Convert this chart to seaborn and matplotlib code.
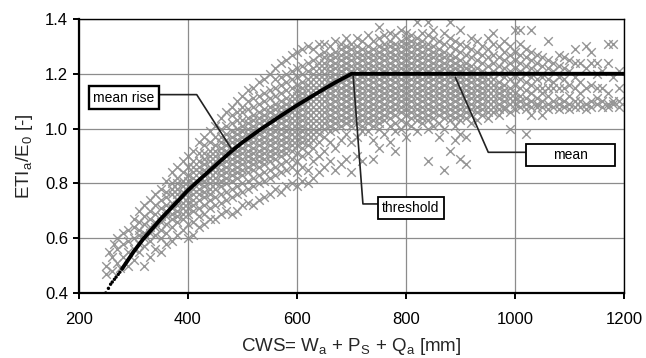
import matplotlib
matplotlib.use("Agg")
import matplotlib.pyplot as plt
from matplotlib.patches import Rectangle
import seaborn as sns
import pandas as pd

# ---------------- data ----------------
# scatter cloud: one x (CWS, mm) per column and the ETI/E0 values seen in it
cloud_cws = [250, 255, 260, 265, 270, 275, 280, 290, 300, 310, 320, 330, 340, 350, 360, 370, 380, 390,
             400, 410, 420, 430, 440, 450, 460, 470, 480, 490, 500, 510, 520, 530, 540, 550, 560, 570,
             580, 590, 600, 610, 620, 630, 640, 650, 660, 670, 680, 690, 700, 710, 720, 730, 740, 750,
             760, 770, 780, 790, 800, 810, 820, 830, 840, 850, 860, 870, 880, 890, 900, 910, 920, 930,
             940, 950, 960, 970, 980, 990, 1000, 1010, 1020, 1030, 1040, 1050, 1060, 1070, 1080, 1090,
             1100, 1110, 1120, 1130, 1140, 1150, 1160, 1170, 1180, 1190]
cloud_eti = [
    [0.47, 0.50], [0.55], [0.48, 0.53], [0.58], [0.51, 0.56, 0.60], [0.49],
    [0.53, 0.58, 0.62], [0.50, 0.55, 0.59, 0.63], [0.52, 0.56, 0.60, 0.64, 0.67],
    [0.55, 0.58, 0.61, 0.63, 0.66, 0.70], [0.50, 0.57, 0.60, 0.62, 0.65, 0.68, 0.72],
    [0.53, 0.59, 0.62, 0.64, 0.67, 0.70, 0.74], [0.56, 0.61, 0.64, 0.66, 0.69, 0.72, 0.76],
    [0.55, 0.60, 0.63, 0.66, 0.68, 0.71, 0.74, 0.78],
    [0.58, 0.62, 0.65, 0.68, 0.70, 0.72, 0.75, 0.77, 0.81],
    [0.59, 0.64, 0.67, 0.69, 0.71, 0.73, 0.76, 0.78, 0.80, 0.84],
    [0.61, 0.66, 0.68, 0.70, 0.72, 0.74, 0.76, 0.78, 0.80, 0.82, 0.86],
    [0.63, 0.67, 0.69, 0.71, 0.73, 0.75, 0.77, 0.79, 0.81, 0.84, 0.88],
    [0.60, 0.65, 0.69, 0.71, 0.73, 0.75, 0.77, 0.79, 0.81, 0.83, 0.86, 0.90],
    [0.61, 0.66, 0.70, 0.72, 0.74, 0.76, 0.78, 0.80, 0.82, 0.84, 0.86, 0.88, 0.92],
    [0.64, 0.68, 0.71, 0.74, 0.76, 0.78, 0.80, 0.82, 0.84, 0.86, 0.88, 0.91, 0.95],
    [0.65, 0.69, 0.72, 0.75, 0.77, 0.79, 0.81, 0.83, 0.85, 0.87, 0.89, 0.91, 0.94, 0.97],
    [0.67, 0.71, 0.74, 0.76, 0.78, 0.80, 0.82, 0.84, 0.86, 0.88, 0.90, 0.92, 0.95, 0.99],
    [0.67, 0.72, 0.75, 0.78, 0.80, 0.82, 0.84, 0.86, 0.88, 0.90, 0.92, 0.94, 0.97, 1.01],
    [0.69, 0.73, 0.76, 0.79, 0.81, 0.83, 0.85, 0.87, 0.89, 0.91, 0.93, 0.95, 0.97, 1.00, 1.04],
    [0.70, 0.74, 0.77, 0.80, 0.82, 0.84, 0.86, 0.88, 0.90, 0.92, 0.94, 0.96, 0.98, 1.01, 1.06],
    [0.69, 0.75, 0.78, 0.81, 0.83, 0.85, 0.87, 0.89, 0.91, 0.93, 0.95, 0.97, 0.99, 1.02, 1.05, 1.08],
    [0.70, 0.76, 0.79, 0.82, 0.84, 0.86, 0.88, 0.90, 0.92, 0.94, 0.96, 0.98, 1.00, 1.03, 1.06, 1.10],
    [0.72, 0.77, 0.80, 0.83, 0.85, 0.87, 0.89, 0.91, 0.93, 0.95, 0.97, 0.99, 1.01, 1.03, 1.06, 1.08, 1.12],
    [0.73, 0.78, 0.81, 0.84, 0.86, 0.88, 0.90, 0.92, 0.94, 0.96, 0.98, 1.00, 1.02, 1.04, 1.07, 1.10, 1.14],
    [0.72, 0.79, 0.82, 0.85, 0.87, 0.89, 0.91, 0.93, 0.95, 0.97, 0.99, 1.01, 1.03, 1.05, 1.08, 1.11, 1.15],
    [0.74, 0.80, 0.83, 0.86, 0.88, 0.90, 0.92, 0.94, 0.96, 0.98, 1.00, 1.02, 1.04, 1.06, 1.09, 1.12, 1.17],
    [0.75, 0.81, 0.84, 0.87, 0.89, 0.91, 0.93, 0.95, 0.97, 0.99, 1.01, 1.03, 1.05, 1.07, 1.10, 1.13, 1.18],
    [0.76, 0.82, 0.85, 0.88, 0.90, 0.92, 0.94, 0.96, 0.98, 1.00, 1.02, 1.04, 1.06, 1.08, 1.11, 1.14, 1.20],
    [0.78, 0.83, 0.86, 0.89, 0.91, 0.93, 0.95, 0.97, 0.99, 1.01, 1.03, 1.05, 1.07, 1.09, 1.12, 1.15, 1.18, 1.22],
    [0.77, 0.84, 0.87, 0.90, 0.92, 0.94, 0.96, 0.98, 1.00, 1.02, 1.04, 1.06, 1.08, 1.10, 1.13, 1.16, 1.19, 1.24],
    [0.79, 0.85, 0.88, 0.91, 0.93, 0.95, 0.97, 0.99, 1.01, 1.03, 1.05, 1.07, 1.09, 1.11, 1.14, 1.17, 1.20, 1.25],
    [0.80, 0.86, 0.89, 0.92, 0.94, 0.96, 0.98, 1.00, 1.02, 1.04, 1.06, 1.08, 1.10, 1.12, 1.15, 1.18, 1.21, 1.27],
    [0.79, 0.84, 0.88, 0.91, 0.94, 0.96, 0.98, 1.00, 1.02, 1.04, 1.06, 1.08, 1.10, 1.12, 1.14, 1.16, 1.19, 1.22, 1.28],
    [0.81, 0.86, 0.90, 0.93, 0.95, 0.97, 0.99, 1.01, 1.03, 1.05, 1.07, 1.09, 1.11, 1.13, 1.15, 1.17, 1.20, 1.23, 1.29],
    [0.80, 0.85, 0.91, 0.94, 0.96, 0.98, 1.00, 1.02, 1.04, 1.06, 1.08, 1.10, 1.12, 1.14, 1.16, 1.18, 1.21, 1.24, 1.30],
    [0.82, 0.88, 0.93, 0.96, 0.98, 1.00, 1.02, 1.04, 1.06, 1.08, 1.10, 1.12, 1.14, 1.16, 1.18, 1.20, 1.22, 1.25, 1.29],
    [0.84, 0.90, 0.95, 0.98, 1.00, 1.02, 1.04, 1.06, 1.08, 1.10, 1.12, 1.14, 1.16, 1.18, 1.20, 1.22, 1.24, 1.27, 1.31],
    [0.86, 0.92, 0.97, 1.00, 1.02, 1.04, 1.06, 1.08, 1.10, 1.12, 1.14, 1.16, 1.18, 1.20, 1.22, 1.24, 1.26, 1.28, 1.31],
    [0.88, 0.95, 0.99, 1.01, 1.03, 1.05, 1.07, 1.09, 1.11, 1.13, 1.15, 1.17, 1.19, 1.21, 1.23, 1.25, 1.27, 1.30],
    [0.85, 0.93, 1.00, 1.02, 1.04, 1.06, 1.08, 1.10, 1.12, 1.14, 1.16, 1.18, 1.20, 1.22, 1.24, 1.26, 1.28, 1.32],
    [0.87, 0.96, 1.01, 1.03, 1.05, 1.07, 1.09, 1.11, 1.13, 1.15, 1.17, 1.19, 1.21, 1.23, 1.25, 1.27, 1.29, 1.31],
    [0.89, 0.98, 1.02, 1.04, 1.06, 1.08, 1.10, 1.12, 1.14, 1.16, 1.18, 1.20, 1.22, 1.24, 1.26, 1.28, 1.30, 1.33],
    [0.84, 0.95, 1.01, 1.03, 1.05, 1.07, 1.09, 1.11, 1.13, 1.15, 1.17, 1.19, 1.21, 1.23, 1.25, 1.27, 1.29, 1.31],
    [0.90, 0.97, 1.02, 1.04, 1.06, 1.08, 1.10, 1.12, 1.14, 1.16, 1.18, 1.20, 1.22, 1.24, 1.26, 1.28, 1.30, 1.33],
    [0.88, 0.99, 1.01, 1.03, 1.05, 1.07, 1.09, 1.11, 1.13, 1.15, 1.17, 1.19, 1.21, 1.23, 1.25, 1.27, 1.29, 1.32],
    [0.99, 1.02, 1.04, 1.06, 1.08, 1.10, 1.12, 1.14, 1.16, 1.18, 1.20, 1.22, 1.24, 1.26, 1.28, 1.30, 1.34],
    [0.89, 0.96, 1.01, 1.03, 1.05, 1.07, 1.09, 1.11, 1.13, 1.15, 1.17, 1.19, 1.21, 1.23, 1.25, 1.27, 1.29, 1.32],
    [0.93, 1.00, 1.02, 1.04, 1.06, 1.08, 1.10, 1.12, 1.14, 1.16, 1.18, 1.20, 1.22, 1.24, 1.26, 1.28, 1.30, 1.33, 1.37],
    [0.98, 1.03, 1.05, 1.07, 1.09, 1.11, 1.13, 1.15, 1.17, 1.19, 1.21, 1.23, 1.25, 1.27, 1.29, 1.31, 1.34],
    [0.95, 1.01, 1.04, 1.06, 1.08, 1.10, 1.12, 1.14, 1.16, 1.18, 1.20, 1.22, 1.24, 1.26, 1.28, 1.30, 1.32, 1.35],
    [0.92, 0.99, 1.02, 1.05, 1.07, 1.09, 1.11, 1.13, 1.15, 1.17, 1.19, 1.21, 1.23, 1.25, 1.27, 1.29, 1.31, 1.34],
    [1.00, 1.03, 1.06, 1.08, 1.10, 1.12, 1.14, 1.16, 1.18, 1.20, 1.22, 1.24, 1.26, 1.28, 1.30, 1.32, 1.36],
    [0.97, 1.02, 1.05, 1.07, 1.09, 1.11, 1.13, 1.15, 1.17, 1.19, 1.21, 1.23, 1.25, 1.27, 1.29, 1.31, 1.33, 1.35],
    [1.01, 1.04, 1.06, 1.08, 1.10, 1.12, 1.14, 1.16, 1.18, 1.20, 1.22, 1.24, 1.26, 1.28, 1.30, 1.32, 1.34],
    [0.99, 1.03, 1.05, 1.07, 1.09, 1.11, 1.13, 1.15, 1.17, 1.19, 1.21, 1.23, 1.25, 1.27, 1.29, 1.31, 1.33, 1.39],
    [1.02, 1.04, 1.06, 1.08, 1.10, 1.12, 1.14, 1.16, 1.18, 1.20, 1.22, 1.24, 1.26, 1.28, 1.30, 1.32, 1.35],
    [0.88, 1.00, 1.03, 1.05, 1.07, 1.09, 1.11, 1.13, 1.15, 1.17, 1.19, 1.21, 1.23, 1.25, 1.27, 1.29, 1.31, 1.34, 1.39],
    [1.01, 1.04, 1.06, 1.08, 1.10, 1.12, 1.14, 1.16, 1.18, 1.20, 1.22, 1.24, 1.26, 1.28, 1.30, 1.33, 1.36],
    [0.97, 1.02, 1.05, 1.07, 1.09, 1.11, 1.13, 1.15, 1.17, 1.19, 1.21, 1.23, 1.25, 1.27, 1.29, 1.32],
    [0.85, 1.00, 1.04, 1.06, 1.08, 1.10, 1.12, 1.14, 1.16, 1.18, 1.20, 1.22, 1.24, 1.26, 1.28, 1.31, 1.35],
    [0.92, 1.03, 1.05, 1.07, 1.09, 1.11, 1.13, 1.15, 1.17, 1.19, 1.21, 1.23, 1.25, 1.27, 1.30, 1.33, 1.39],
    [0.96, 1.01, 1.04, 1.06, 1.08, 1.10, 1.12, 1.14, 1.16, 1.18, 1.20, 1.22, 1.24, 1.26, 1.29, 1.32],
    [0.89, 0.98, 1.03, 1.05, 1.07, 1.09, 1.11, 1.13, 1.15, 1.17, 1.19, 1.21, 1.23, 1.25, 1.28, 1.31, 1.36],
    [0.87, 0.97, 1.04, 1.06, 1.08, 1.10, 1.12, 1.14, 1.16, 1.18, 1.20, 1.22, 1.24, 1.27, 1.30],
    [1.02, 1.05, 1.07, 1.09, 1.11, 1.13, 1.15, 1.17, 1.19, 1.21, 1.23, 1.26, 1.29, 1.33],
    [1.03, 1.06, 1.08, 1.10, 1.12, 1.14, 1.16, 1.18, 1.20, 1.22, 1.25, 1.28, 1.32],
    [1.05, 1.07, 1.09, 1.11, 1.13, 1.15, 1.17, 1.19, 1.21, 1.24, 1.27, 1.30],
    [1.04, 1.06, 1.08, 1.10, 1.12, 1.14, 1.16, 1.18, 1.20, 1.23, 1.26, 1.29, 1.33],
    [1.06, 1.08, 1.10, 1.12, 1.14, 1.16, 1.18, 1.21, 1.24, 1.27, 1.31, 1.35],
    [1.05, 1.07, 1.09, 1.11, 1.13, 1.15, 1.17, 1.20, 1.23, 1.26, 1.30],
    [1.07, 1.08, 1.10, 1.12, 1.14, 1.16, 1.19, 1.22, 1.25, 1.28, 1.32],
    [1.00, 1.06, 1.09, 1.11, 1.13, 1.15, 1.18, 1.21, 1.24, 1.27, 1.30],
    [1.07, 1.09, 1.11, 1.13, 1.16, 1.19, 1.22, 1.25, 1.28, 1.36],
    [1.08, 1.10, 1.12, 1.15, 1.18, 1.21, 1.24, 1.27, 1.31, 1.36],
    [0.98, 1.07, 1.09, 1.11, 1.14, 1.17, 1.20, 1.23, 1.26, 1.29],
    [1.05, 1.08, 1.10, 1.13, 1.16, 1.19, 1.22, 1.25, 1.28, 1.36],
    [1.08, 1.09, 1.11, 1.15, 1.18, 1.21, 1.24, 1.27],
    [1.05, 1.08, 1.10, 1.13, 1.15, 1.19, 1.23, 1.26],
    [1.07, 1.09, 1.12, 1.15, 1.18, 1.22, 1.25, 1.32],
    [1.08, 1.10, 1.15, 1.17, 1.21, 1.24],
    [1.07, 1.09, 1.11, 1.15, 1.19, 1.23, 1.27],
    [1.08, 1.10, 1.15, 1.18, 1.22, 1.26],
    [1.07, 1.09, 1.12, 1.16, 1.21, 1.25],
    [1.08, 1.10, 1.15, 1.19, 1.24, 1.29],
    [1.08, 1.10, 1.13, 1.17, 1.24],
    [1.07, 1.09, 1.15, 1.22, 1.30],
    [1.08, 1.10, 1.16, 1.24, 1.28],
    [1.09, 1.11, 1.15, 1.20, 1.24],
    [1.08, 1.10, 1.15, 1.21],
    [1.08, 1.09, 1.13, 1.24, 1.31],
    [1.09, 1.10, 1.19, 1.31],
    [1.08, 1.10, 1.15, 1.21],
]

# mean curve: dotted start, solid rise, then flat mean after the threshold
dot_cws = [249, 254, 258, 261, 265, 268, 272, 275]
dot_eti = [0.400, 0.417, 0.432, 0.440, 0.450, 0.458, 0.468, 0.476]
mean_cws = [279, 300, 317, 350, 400, 422, 450, 480, 500, 535, 569, 600, 629, 650, 670, 700, 1200]
mean_eti = [0.488, 0.550, 0.595, 0.670, 0.775, 0.815, 0.865, 0.918, 0.950, 1.000, 1.045,
            1.085, 1.120, 1.145, 1.168, 1.200, 1.200]

x_ticks = [200, 400, 600, 800, 1000, 1200]
y_ticks = [0.4, 0.6, 0.8, 1.0, 1.2, 1.4]

# ---------------- style ----------------
sns.set_style("ticks")
plt.rcParams["font.family"] = ["Liberation Sans", "DejaVu Sans"]
plt.rcParams["mathtext.default"] = "regular"

cloud_df = pd.DataFrame({
    "CWS": [x for x, col in zip(cloud_cws, cloud_eti) for _ in col],
    "ETI": [v for col in cloud_eti for v in col],
})
dot_df = pd.DataFrame({"CWS": dot_cws, "ETI": dot_eti})
mean_df = pd.DataFrame({"CWS": mean_cws, "ETI": mean_eti})

fig = plt.figure(figsize=(6.46, 3.58), dpi=100)
ax = fig.add_axes([0.1223, 0.1816, 0.8436, 0.7653])

sns.scatterplot(data=cloud_df, x="CWS", y="ETI", ax=ax, marker="x", s=38,
                color="#969696", linewidth=1.0, zorder=1, legend=False)
sns.lineplot(data=mean_df, x="CWS", y="ETI", ax=ax, color="black", linewidth=2.8,
             sort=False, estimator=None, zorder=4)
sns.scatterplot(data=dot_df, x="CWS", y="ETI", ax=ax, marker="o", s=6, color="black",
                edgecolor="none", zorder=4, legend=False)

ax.set_xlim(200, 1200)
ax.set_ylim(0.4, 1.4)
ax.set_xticks(x_ticks)
ax.set_yticks(y_ticks)
ax.set_xticklabels([str(t) for t in x_ticks])
ax.set_yticklabels([f"{t:.1f}" for t in y_ticks])
ax.grid(True, color="#8c8c8c", linewidth=0.9)
ax.set_axisbelow(False)
for ln in ax.get_xgridlines() + ax.get_ygridlines():
    ln.set_zorder(2)
for name, sp in ax.spines.items():
    sp.set_visible(True)
    sp.set_color("black")
    sp.set_linewidth(1.6 if name in ("left", "bottom") else 1.0)
    sp.set_zorder(5)
ax.tick_params(axis="both", direction="out", length=4, width=1.4, color="black",
               labelsize=12, labelcolor="black")
ax.tick_params(axis="x", pad=10)
ax.tick_params(axis="y", pad=4)

ax.set_xlabel("CWS= W$_a$ + P$_S$ + Q$_a$ [mm]", fontsize=13.5, labelpad=6)
ax.set_ylabel("ETI$_a$/E$_0$ [-]", fontsize=13.5, labelpad=7)

# ---------------- annotations ----------------
def label_box(x0, x1, y0, y1, text, lw):
    ax.add_patch(Rectangle((x0, y0), x1 - x0, y1 - y0, facecolor="white",
                           edgecolor="black", linewidth=lw, zorder=7))
    ax.text((x0 + x1) / 2, (y0 + y1) / 2, text, ha="center", va="center",
            fontsize=10, color="black", zorder=8)

lead = dict(color="#222222", linewidth=1.2, zorder=6, solid_capstyle="butt")
ax.plot([346.8, 416, 481], [1.124, 1.124, 0.922], **lead)
ax.plot([748.6, 721, 703], [0.725, 0.725, 1.195], **lead)
ax.plot([1020, 951, 890], [0.9135, 0.9135, 1.19], **lead)

label_box(218.3, 346.8, 1.0715, 1.1555, "mean rise", 1.7)
label_box(748.6, 869.7, 0.670, 0.7504, "threshold", 1.3)
label_box(1020.2, 1183.5, 0.8635, 0.9438, "mean", 1.3)

fig.savefig("out.png", dpi=100)
